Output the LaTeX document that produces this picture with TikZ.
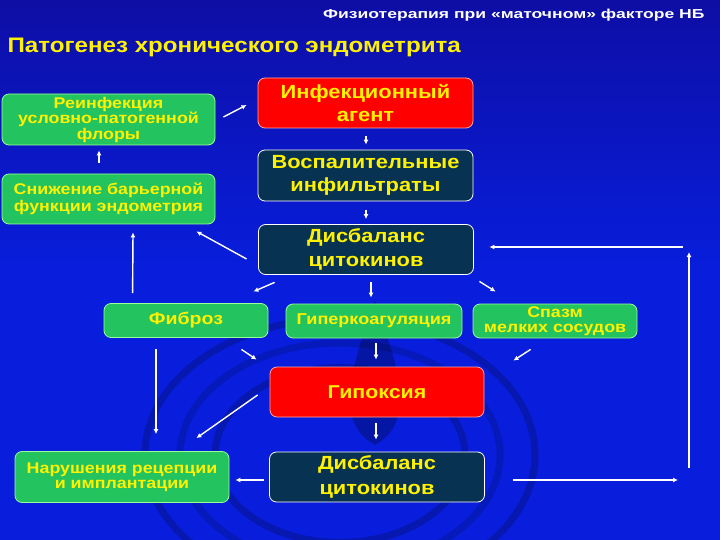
\documentclass[tikz,border=0pt]{standalone}
\usepackage{fontspec}
\setmainfont[FakeStretch=1.15]{Liberation Sans}
\newfontfamily\widefont[FakeStretch=1.35]{Liberation Sans}
\usetikzlibrary{arrows.meta,calc}
\definecolor{bgblue}{RGB}{8,30,220}
\definecolor{bgtop}{RGB}{14,14,165}
\definecolor{boxgreen}{RGB}{35,195,95}
\definecolor{boxdark}{RGB}{8,50,82}
\tikzset{
  box/.style={line width=0.8pt,rounded corners=7pt,align=center,text=yellow,inner sep=0pt},
  grnbox/.style={box,draw=green!40!white,fill=boxgreen},
  redbox/.style={box,draw=red!35!white,fill=red},
  drkbox/.style={box,draw=white!85,fill=boxdark},
  arr/.style={white,line width=1.4pt,-{Latex[length=5pt,width=5pt]}}
}
\newcommand{\fs}[1]{\fontsize{#1}{#1}\bfseries\selectfont}
\begin{document}
\begin{tikzpicture}[x=1pt,y=-1pt]
% background with water ripples
\clip (0,0) rectangle (720,540);
\shade[top color=bgtop,bottom color=bgblue,middle color=bgblue] (0,0) rectangle (720,540);
\foreach \r/\o in {195/0.2,160/0.15,125/0.2}{\draw[line width=7pt,black,opacity=\o] (340,455) ellipse ({\r} and {\r*0.7});}
\fill[black,opacity=0.25] (375,300) .. controls (395,360) and (420,420) .. (375,445) .. controls (330,420) and (355,360) .. (375,300);
% titles
\node[anchor=east,text=white,font=\widefont\fs{13}] (head) at (708,15) {Физиотерапия при «маточном» факторе НБ};
\node[anchor=west,text=yellow,font=\fs{21}] (title) at (4,47) {Патогенез хронического эндометрита};
% boxes
\node[grnbox,minimum width=213,minimum height=51,font=\fs{15.5}] (reinf) at (108.5,119.5) {Реинфекция\\условно-патогенной\\флоры};
\node[grnbox,minimum width=213,minimum height=50,font=\fs{15.5}] (snizh) at (108.5,199) {Снижение барьерной\\[1pt]функции эндометрия};
\node[redbox,minimum width=215,minimum height=50,font=\fs{19}] (infek) at (365.5,103) {Инфекционный\\[4pt]агент};
\node[drkbox,minimum width=215,minimum height=51,font=\fs{19}] (vospal) at (365.5,175.5) {Воспалительные\\[4pt]инфильтраты};
\node[drkbox,minimum width=215,minimum height=50,font=\fs{19}] (disb) at (366,249.5) {Дисбаланс\\[5pt]цитокинов};
\node[grnbox,minimum width=164,minimum height=34,font=\fs{17}] (fibr) at (186,320.5) {Фиброз};
\node[grnbox,minimum width=176,minimum height=34,font=\fs{15.7}] (giper) at (374,321) {Гиперкоагуляция};
\node[grnbox,minimum width=164,minimum height=34,font=\fs{15.5}] (spazm) at (555,321) {Спазм\\мелких сосудов};
\node[redbox,minimum width=214,minimum height=50,font=\fs{18.6}] (gipox) at (377,392) {Гипоксия};
\node[grnbox,minimum width=214,minimum height=51,font=\fs{15.5}] (narush) at (122,477) {Нарушения рецепции\\и имплантации};
\node[drkbox,minimum width=215,minimum height=50,font=\fs{19}] (disb2) at (377,477) {Дисбаланс\\[6pt]цитокинов};
% arrows
\draw[arr] ($(reinf.east)+(8,-2.5)$) -- ($(infek.west)+(-11,2)$);
\draw[arr] ($(snizh.north)+(-9.5,-11)$) -- ($(reinf.south)+(-9.5,5)$);
\draw[arr] ($(infek.south)+(0.5,8)$) -- ($(vospal.north)+(0.5,-5)$);
\draw[arr] ($(vospal.south)+(0.5,9)$) -- ($(disb.north)+(0,-5)$);
\draw[arr] ($(disb.west)+(-11.5,9.5)$) -- ($(snizh.south east)+(-19,7)$);
\draw[arr] ($(fibr.north west)+(29,-10)$) -- ($(snizh.south)+(24.5,8)$);
\draw[arr] ($(disb.south west)+(16.5,7.5)$) -- ($(fibr.north east)+(-15,-11.5)$);
\draw[arr] ($(disb.south)+(5,7.5)$) -- ($(giper.north)+(-3,-6)$);
\draw[arr] ($(disb.south east)+(5.5,6.5)$) -- ($(spazm.north west)+(23,-12)$);
\draw[arr] ($(fibr.south east)+(-27,11.5)$) -- ($(gipox.north west)+(-13,-7)$);
\draw[arr] ($(giper.south)+(2,5)$) -- ($(gipox.north)+(-1,-7)$);
\draw[arr] ($(spazm.south west)+(58,11)$) -- ($(gipox.north east)+(29,-6)$);
\draw[arr] ($(fibr.south)+(-30,11.5)$) -- ($(narush.north)+(34,-17)$);
\draw[arr] ($(gipox.west)+(-12,3)$) -- ($(narush.north east)+(-33,-13)$);
\draw[arr] ($(gipox.south)+(-1,6)$) -- ($(disb2.north)+(-1,-12)$);
\draw[arr] ($(disb2.west)+(-5.5,3)$) -- ($(narush.east)+(6,3)$);
% loop back on the right
\coordinate (rb) at (689,480);
\coordinate (rt) at (689,247);
\draw[arr] ($(disb2.east)+(28.5,3)$) -- ($(rb)+(-11,0)$);
\draw[arr] ($(rb)+(0,-12)$) -- ($(rt)+(0,5)$);
\draw[arr] ($(rt)+(-6,0)$) -- ($(disb.east)+(15.5,-2.5)$);
\end{tikzpicture}
\end{document}
